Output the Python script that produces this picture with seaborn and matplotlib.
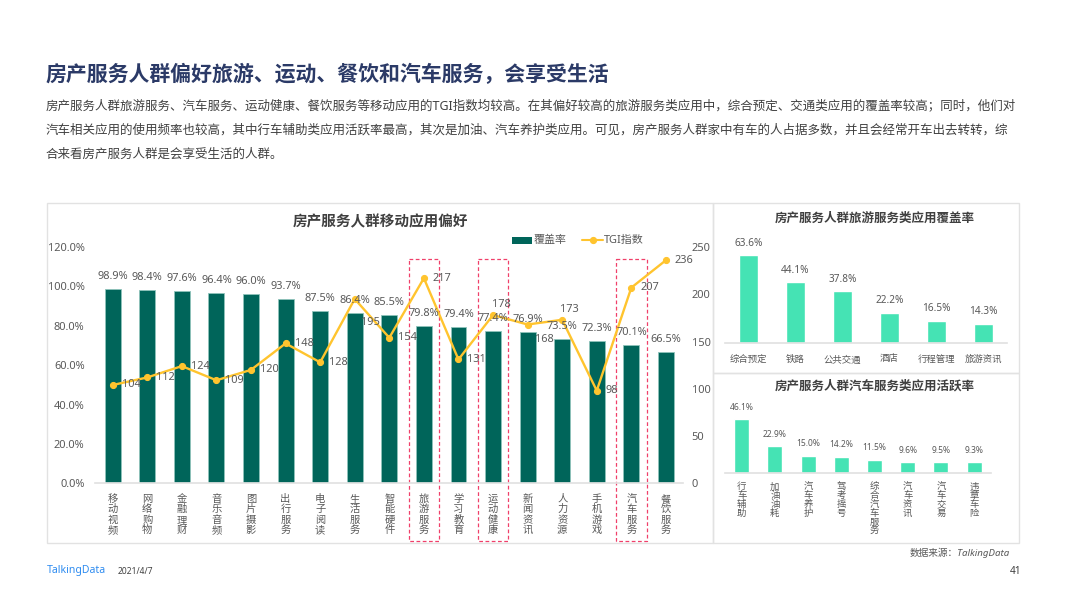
import numpy as np
import pandas as pd
import seaborn as sns
import matplotlib
matplotlib.use("Agg")
import matplotlib.pyplot as plt
from matplotlib.patches import Rectangle
from matplotlib.lines import Line2D

sns.set_theme(style="white")
plt.rcParams['font.family'] = ['Noto Sans', 'Noto Sans CJK SC', 'DejaVu Sans']
plt.rcParams['axes.unicode_minus'] = False

apps = ['移动视频','网络购物','金融理财','音乐音频','图片摄影','出行服务','电子阅读','生活服务','智能硬件',
        '旅游服务','学习教育','运动健康','新闻资讯','人力资源','手机游戏','汽车服务','餐饮服务']
coverage = [98.9,98.4,97.6,96.4,96.0,93.7,87.5,86.4,85.5,79.8,79.4,77.4,76.9,73.5,72.3,70.1,66.5]
tgi = [104,112,124,109,120,148,128,195,154,217,131,178,168,173,98,207,236]
highlighted = ['旅游服务','运动健康','汽车服务']

travel_apps = ['综合预定','铁路','公共交通','酒店','行程管理','旅游资讯']
travel_cov = [63.6,44.1,37.8,22.2,16.5,14.3]
car_apps = ['行车辅助','加油油耗','汽车养护','驾考摇号','综合汽车服务','汽车资讯','汽车交易','违章车险']
car_active = [46.1,22.9,15.0,14.2,11.5,9.6,9.5,9.3]

W, H = 1066, 599
DARK, YEL, MINT = '#00655A', '#FFC42E', '#45E3B4'
GREY, TXT, EDGE = '#595959', '#404040', '#E2E2E2'
px = 0.72

fig = plt.figure(figsize=(W/100, H/100), dpi=100, facecolor='white')

def box(l, t, r, b, **kw):
    return fig.add_axes([l/W, 1-b/H, (r-l)/W, (b-t)/H], **kw)

def ftext(x, y, s, **kw):
    fig.text(x/W, 1-y/H, s, **kw)

bg = fig.add_axes([0, 0, 1, 1], zorder=-5)
bg.set_xlim(0, W); bg.set_ylim(H, 0); bg.axis('off')
for l, t, r, b in [(47,202.5,713,542.5),(713,202.5,1018.5,372.5),(713,372.5,1018.5,542.5)]:
    bg.add_patch(Rectangle((l, t), r-l, b-t, fill=False, ec=EDGE, lw=1))

ftext(46, 75, '房产服务人群偏好旅游、运动、餐饮和汽车服务，会享受生活', fontsize=20.9*px, fontweight='bold',
      color='#2B3A67', va='center')
para = ['房产服务人群旅游服务、汽车服务、运动健康、餐饮服务等移动应用的TGI指数均较高。在其偏好较高的旅游服务类应用中，综合预定、交通类应用的覆盖率较高；同时，他们对',
        '汽车相关应用的使用频率也较高，其中行车辅助类应用活跃率最高，其次是加油、汽车养护类应用。可见，房产服务人群家中有车的人占据多数，并且会经常开车出去转转，综',
        '合来看房产服务人群是会享受生活的人群。']
for i, line in enumerate(para):
    ftext(46, 106+i*24, line, fontsize=12.5*px, color=TXT, va='center')

# main chart
n = len(apps)
ax = box(95.4, 247, 683.2, 483.3)
df = pd.DataFrame({'app': apps, 'coverage': coverage, 'tgi': tgi})
sns.barplot(data=df, x='app', y='coverage', color=DARK, width=0.46, saturation=1, ax=ax,
            edgecolor='#8FC4BB', linewidth=0.6)
ax.set_xlim(-0.5, n-0.5); ax.set_ylim(0, 120)
ax.set_xlabel(''); ax.set_ylabel('')
ax.patch.set_alpha(0)
ax.set_yticks(np.arange(0, 121, 20))
ax.set_yticklabels([f'{v:.1f}%' for v in np.arange(0, 121, 20)], fontsize=11*px, color=GREY)
ax.tick_params(axis='y', length=0, pad=7.8)
ax.set_xticks(range(n))
ax.set_xticklabels(['\n'.join(a) for a in apps], fontsize=10.3*px, color=GREY, linespacing=0.94)
ax.tick_params(axis='x', length=0, pad=7.5)
sns.despine(ax=ax, left=True, right=True, top=True)
ax.spines['bottom'].set_color(EDGE)

ax2 = ax.twinx()
sns.lineplot(x=np.arange(n), y=tgi, ax=ax2, color=YEL, lw=1.7, marker='o', markersize=4.4,
             markeredgecolor=YEL, zorder=5)
ax2.set_ylim(0, 250)
ax2.set_yticks(np.arange(0, 251, 50))
ax2.tick_params(axis='y', length=0, pad=6, labelsize=11*px, labelcolor=GREY)
sns.despine(ax=ax2, left=True, right=True, top=True, bottom=True)
ax2.grid(False); ax.grid(False)

for i, v in enumerate(coverage):
    ax2.annotate(f'{v}%', (i, v*250/120), xytext=(0, 12.5*px), textcoords='offset points',
                 ha='center', va='center', fontsize=11*px, color=GREY, zorder=6)
line_off = {195: (16, -24), 168: (17, -15), 173: (7, 10), 178: (8, 11)}
for i, v in enumerate(tgi):
    if v in line_off:
        dx, dy = line_off[v]
        ax2.annotate(str(v), (i, v), xytext=(dx*px, dy*px), textcoords='offset points',
                     ha='center', va='center', fontsize=11*px, color=GREY, zorder=6)
    else:
        ax2.annotate(str(v), (i, v), xytext=(9*px, 0), textcoords='offset points',
                     ha='left', va='center', fontsize=11*px, color=GREY, zorder=6)

# dashed highlight frames
for a in highlighted:
    i = apps.index(a)
    cx = 95.4 + (i+0.5)*(683.2-95.4)/n
    bg.add_patch(Rectangle((cx-15.2, 259.3), 30.4, 282, fill=False, ec='#F0406A', lw=0.9, ls=(0, (3, 2))))

ftext(380.5, 223.3, '房产服务人群移动应用偏好', fontsize=14.6*px, fontweight='bold', color=TXT, ha='center', va='center')
bg.add_patch(Rectangle((512, 236.7), 20, 7.3, color=DARK, lw=0))
ftext(534, 240, '覆盖率', fontsize=11*px, color=GREY, va='center')
bg.add_line(Line2D([582, 592.5, 603], [240, 240, 240], color=YEL, lw=1.5, marker='o', markersize=4.2, markevery=[1]))
ftext(604, 240, 'TGI指数', fontsize=11*px, color=GREY, va='center')

# travel panel
ax3 = box(725, 246.6, 1007, 343.3)
sns.barplot(x=travel_apps, y=travel_cov, color=MINT, width=0.4, saturation=1, ax=ax3)
ax3.set_xlim(-0.5, 5.5); ax3.set_ylim(0, 70)
ax3.set_yticks([]); ax3.set_ylabel('')
ax3.tick_params(axis='x', length=0, pad=8.5, labelsize=9.4*px, labelcolor=GREY)
sns.despine(ax=ax3, left=True, right=True, top=True)
ax3.spines['bottom'].set_color(EDGE)
ax3.patch.set_alpha(0); ax3.grid(False)
for i, v in enumerate(travel_cov):
    ax3.annotate(f'{v}%', (i, v), xytext=(0, 12*px), textcoords='offset points', ha='center', va='center',
                 fontsize=10*px, color=GREY)
ftext(875, 218, '房产服务人群旅游服务类应用覆盖率', fontsize=12.5*px, fontweight='bold', color=TXT, ha='center', va='center')

# car panel
ax4 = box(725, 402, 990.7, 473.3)
sns.barplot(x=car_apps, y=car_active, color=MINT, width=0.45, saturation=1, ax=ax4)
ax4.set_xlim(-0.5, 7.5); ax4.set_ylim(0, 60.9)
ax4.set_yticks([]); ax4.set_ylabel('')
ax4.set_xticks(range(len(car_apps)))
ax4.set_xticklabels(['\n'.join(a) for a in car_apps], fontsize=9.4*px, color=GREY, linespacing=0.97)
ax4.tick_params(axis='x', length=0, pad=6.5)
sns.despine(ax=ax4, left=True, right=True, top=True)
ax4.spines['bottom'].set_color(EDGE)
ax4.patch.set_alpha(0); ax4.grid(False)
for i, v in enumerate(car_active):
    ax4.annotate(f'{v}%', (i, v), xytext=(0, 12*px), textcoords='offset points', ha='center', va='center',
                 fontsize=8.5*px, color=GREY)
ftext(875, 386, '房产服务人群汽车服务类应用活跃率', fontsize=12.5*px, fontweight='bold', color=TXT, ha='center', va='center')

# footer
ftext(1010, 553, '数据来源：TalkingData', fontsize=9.7*px, color=GREY, ha='right', va='center', style='italic')
ftext(47, 571, 'TalkingData', fontsize=10.5*px, color='#2F8CF0', va='center', fontweight='bold')
ftext(118, 572, '2021/4/7', fontsize=8.5*px, color=TXT, va='center')
ftext(1021, 571, '41', fontsize=10*px, color=TXT, ha='right', va='center')

fig.savefig('out.png', dpi=100, facecolor='white')
